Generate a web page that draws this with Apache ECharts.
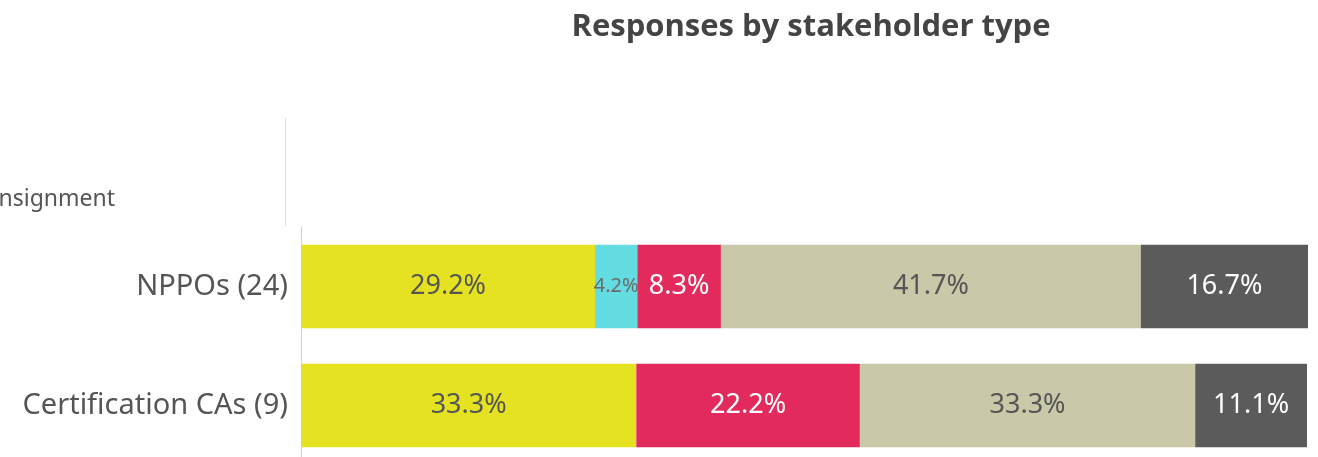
<!DOCTYPE html>
<html>
<head>
<meta charset="utf-8">
<script src="https://cdn.jsdelivr.net/npm/echarts@6/dist/echarts.min.js"></script>
<style>
  html, body { margin: 0; padding: 0; background: #fff; overflow: hidden; }
  #chart { width: 1318px; height: 466px; }
</style>
</head>
<body>
<div id="chart"></div>
<script>
// Stakeholder groups (respondent count in brackets)
const categories = ['NPPOs (24)', 'Certification CAs (9)'];

// Share of responses per answer option, in percent
const optionNames = ['Option 1', 'Option 2', 'Option 3', 'Option 4', 'Option 5'];
const option1 = [29.2, 33.3];
const option2 = [4.2, 0];
const option3 = [8.3, 22.2];
const option4 = [41.7, 33.3];
const option5 = [16.7, 11.1];

const colors = ['#e5e321', '#63dce2', '#e22b5c', '#c9c8a8', '#5b5b5b'];
const labelColors = ['#555555', '#6a6a6a', '#ffffff', '#555555', '#ffffff'];
const labelSizes = [27, 20, 27, 27, 27];

const FONT = '"Noto Sans", sans-serif';

const seriesValues = [option1, option2, option3, option4, option5];

const chart = echarts.init(document.getElementById('chart'), null, { renderer: 'canvas' });

chart.setOption({
  backgroundColor: '#ffffff',
  animation: false,
  title: {
    text: 'Responses by stakeholder type',
    left: 806,
    top: 7,
    textAlign: 'center',
    textStyle: { fontFamily: '"Open Sans", sans-serif', fontWeight: 'bold', fontSize: 31, color: '#444444' }
  },
  graphic: [
    {
      type: 'line',
      shape: { x1: 285.5, y1: 118, x2: 285.5, y2: 226 },
      style: { stroke: '#dcdcdc', lineWidth: 1 }
    },
    {
      type: 'text',
      x: 115,
      y: 199,
      style: {
        text: 'Per consignment',
        align: 'right',
        verticalAlign: 'middle',
        font: '23px "Noto Sans", sans-serif',
        fill: '#555555'
      }
    }
  ],
  grid: { left: 301, top: 227, width: 1007, height: 238, containLabel: false },
  xAxis: {
    type: 'value',
    min: 0,
    max: 100,
    show: false
  },
  yAxis: {
    type: 'category',
    data: categories,
    inverse: true,
    axisLine: { show: true, lineStyle: { color: '#cfcfcf', width: 1 } },
    axisTick: { show: false },
    axisLabel: { fontFamily: FONT, fontSize: 29, color: '#555555', margin: 13 }
  },
  series: seriesValues.map((vals, i) => ({
    name: optionNames[i],
    type: 'bar',
    stack: 'total',
    barCategoryGap: '30%',
    data: vals,
    itemStyle: { color: colors[i] },
    label: {
      show: true,
      position: 'inside',
      fontFamily: FONT,
      fontSize: labelSizes[i],
      color: labelColors[i],
      formatter: p => (p.value > 0 ? p.value.toFixed(1) + '%' : '')
    }
  }))
});
</script>
</body>
</html>
